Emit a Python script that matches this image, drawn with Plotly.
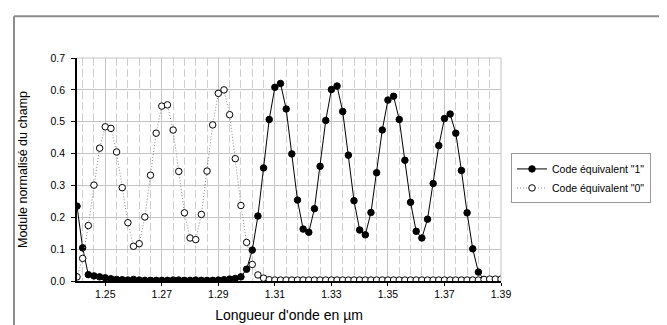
import plotly.graph_objects as go

wavelength = [
    1.240, 1.242, 1.244, 1.246, 1.248, 1.250, 1.252, 1.254, 1.256, 1.258,
    1.260, 1.262, 1.264, 1.266, 1.268, 1.270, 1.272, 1.274, 1.276, 1.278,
    1.280, 1.282, 1.284, 1.286, 1.288, 1.290, 1.292, 1.294, 1.296, 1.298,
    1.300, 1.302, 1.304, 1.306, 1.308, 1.310, 1.312, 1.314, 1.316, 1.318,
    1.320, 1.322, 1.324, 1.326, 1.328, 1.330, 1.332, 1.334, 1.336, 1.338,
    1.340, 1.342, 1.344, 1.346, 1.348, 1.350, 1.352, 1.354, 1.356, 1.358,
    1.360, 1.362, 1.364, 1.366, 1.368, 1.370, 1.372, 1.374, 1.376, 1.378,
    1.380, 1.382, 1.384, 1.386, 1.388, 1.390,
]

code_1 = [
    0.235, 0.104, 0.020, 0.016, 0.013, 0.010, 0.007, 0.005, 0.004, 0.003,
    0.005, 0.003, 0.002, 0.002, 0.002, 0.002, 0.002, 0.003, 0.003, 0.002,
    0.002, 0.003, 0.002, 0.002, 0.002, 0.003, 0.004, 0.006, 0.008, 0.013,
    0.037, 0.097, 0.204, 0.355, 0.507, 0.608, 0.620, 0.540, 0.399, 0.254,
    0.163, 0.153, 0.227, 0.360, 0.504, 0.601, 0.612, 0.532, 0.395, 0.252,
    0.160, 0.145, 0.215, 0.340, 0.474, 0.568, 0.580, 0.507, 0.379, 0.247,
    0.156, 0.135, 0.194, 0.306, 0.425, 0.510, 0.524, 0.464, 0.347, 0.214,
    0.101, 0.028, 0.004, 0.002, 0.002, 0.002,
]

code_0 = [
    0.013, 0.071, 0.174, 0.301, 0.417, 0.484, 0.479, 0.405, 0.293, 0.183,
    0.109, 0.117, 0.201, 0.332, 0.464, 0.549, 0.553, 0.474, 0.344, 0.214,
    0.135, 0.130, 0.209, 0.345, 0.490, 0.589, 0.600, 0.522, 0.384, 0.237,
    0.121, 0.052, 0.019, 0.009, 0.004, 0.003, 0.003, 0.003, 0.003, 0.003,
    0.003, 0.003, 0.003, 0.003, 0.003, 0.003, 0.003, 0.003, 0.003, 0.003,
    0.003, 0.003, 0.003, 0.003, 0.003, 0.003, 0.003, 0.003, 0.003, 0.003,
    0.003, 0.003, 0.003, 0.003, 0.003, 0.003, 0.003, 0.003, 0.003, 0.003,
    0.003, 0.003, 0.005, 0.006, 0.006, 0.006,
]

x_tick_vals = [1.25, 1.27, 1.29, 1.31, 1.33, 1.35, 1.37, 1.39]
x_tick_text = ["1.25", "1.27", "1.29", "1.31", "1.33", "1.35", "1.37", "1.39"]
y_tick_vals = [0.0, 0.1, 0.2, 0.3, 0.4, 0.5, 0.6, 0.7]
y_tick_text = ["0.0", "0.1", "0.2", "0.3", "0.4", "0.5", "0.6", "0.7"]

FONT = "Liberation Sans, Arial, sans-serif"

fig = go.Figure()
fig.add_trace(go.Scatter(
    x=wavelength, y=code_1, mode="lines+markers",
    name='Code équivalent "1"',
    line=dict(color="black", width=1),
    marker=dict(symbol="circle", size=6.5, color="black",
                line=dict(color="black", width=1)),
))
fig.add_trace(go.Scatter(
    x=wavelength, y=code_0, mode="lines+markers",
    name='Code équivalent "0"',
    line=dict(color="#8a8a8a", width=1, dash="1px,2px"),
    marker=dict(symbol="circle", size=6.5, color="white",
                line=dict(color="black", width=1)),
))

W, H = 667, 325
ml, mr, mt, mb = 69, 174, 50, 46
pw = W - ml - mr
ph = H - mt - mb

def px_x(p):
    return (p - ml) / pw

def px_y(p):
    return (H - mb - p) / ph

fig.update_layout(
    width=W, height=H,
    margin=dict(l=ml, r=mr, t=mt, b=mb, pad=0),
    paper_bgcolor="white", plot_bgcolor="white",
    font=dict(family=FONT, color="black", size=10.5),
    showlegend=True,
    legend=dict(
        x=px_x(503), y=px_y(148), xanchor="left", yanchor="top",
        bgcolor="white", bordercolor="#9a9a9a", borderwidth=1,
        font=dict(family=FONT, size=10.5, color="black"),
        tracegroupgap=0, itemwidth=30,
    ),
    xaxis=dict(
        range=[1.24, 1.39], tickmode="array",
        tickvals=x_tick_vals, ticktext=x_tick_text,
        showgrid=True, gridcolor="#c4c4c4", gridwidth=1,
        showline=True, linecolor="black", linewidth=1.5,
        ticks="outside", ticklen=3, tickcolor="black",
        tickfont=dict(family=FONT, size=10.5),
        minor=dict(dtick=0.004, tick0=1.25, showgrid=True,
                   gridcolor="#cfcfcf", gridwidth=1, griddash="8px,3px"),
        zeroline=False,
        title=dict(text="Longueur d'onde en µm",
                   font=dict(family=FONT, size=14), standoff=11),
    ),
    yaxis=dict(
        range=[0, 0.7], tickmode="array",
        tickvals=y_tick_vals, ticktext=y_tick_text,
        showgrid=True, gridcolor="#c4c4c4", gridwidth=1,
        showline=True, linecolor="black", linewidth=1.5,
        ticks="outside", ticklen=4, tickcolor="black",
        ticklabelstandoff=4,
        tickfont=dict(family=FONT, size=10.5),
        zeroline=False,
        title=dict(text="Module normalisé du champ",
                   font=dict(family=FONT, size=12.5), standoff=20),
    ),
    shapes=[
        dict(type="line", xref="paper", yref="paper",
             x0=px_x(6), x1=px_x(667), y0=px_y(7), y1=px_y(7),
             line=dict(color="#8c8c8c", width=2)),
        dict(type="line", xref="paper", yref="paper",
             x0=px_x(6), x1=px_x(6), y0=px_y(7), y1=px_y(330),
             line=dict(color="#8c8c8c", width=2)),
        dict(type="line", xref="paper", yref="paper",
             x0=1, x1=1, y0=0, y1=1,
             line=dict(color="#c4c4c4", width=1)),
        dict(type="line", xref="paper", yref="paper",
             x0=0, x1=1, y0=1, y1=1,
             line=dict(color="#c4c4c4", width=1)),
    ],
)

fig.write_html("out.html")
